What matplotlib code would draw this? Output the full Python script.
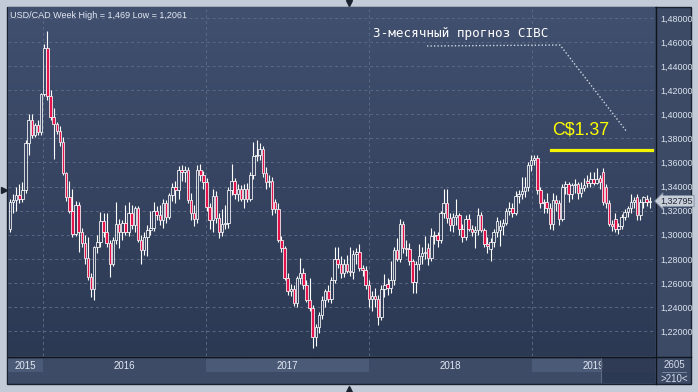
import numpy as np
import pandas as pd
import matplotlib
matplotlib.use('Agg')
import matplotlib.pyplot as plt
import matplotlib.transforms as mtransforms
from matplotlib.patches import Rectangle
from matplotlib.lines import Line2D
from matplotlib.colors import LinearSegmentedColormap

plt.rcParams['font.family'] = ['Liberation Sans', 'DejaVu Sans']

######### Data (weekly USD/CAD candles) #########
start_week = '2015-10-19'

opens = [1.305, 1.327, 1.329, 1.333, 1.330, 1.337, 1.376, 1.395, 1.383, 1.391,
         1.385, 1.417, 1.455, 1.415, 1.398, 1.392, 1.386, 1.377, 1.351, 1.331,
         1.320, 1.301, 1.325, 1.302, 1.293, 1.281, 1.265, 1.255, 1.290, 1.294,
         1.311, 1.302, 1.293, 1.276, 1.296, 1.309, 1.302, 1.310, 1.302, 1.318,
         1.308, 1.322, 1.296, 1.287, 1.298, 1.304, 1.306, 1.320, 1.316, 1.312,
         1.326, 1.315, 1.333,
         1.340, 1.337, 1.354, 1.352, 1.354, 1.329, 1.318, 1.313, 1.354, 1.350,
         1.344, 1.323, 1.312, 1.332, 1.314, 1.302, 1.309, 1.310, 1.337, 1.345,
         1.334, 1.338, 1.330, 1.338, 1.330, 1.350, 1.365, 1.366, 1.371, 1.351,
         1.344, 1.345, 1.327, 1.321, 1.296, 1.289, 1.264, 1.253, 1.255, 1.243,
         1.264, 1.268, 1.258, 1.246, 1.239, 1.215, 1.223, 1.233, 1.246, 1.253,
         1.247,
         1.262, 1.280, 1.276, 1.268, 1.276, 1.270, 1.269, 1.284, 1.286, 1.272,
         1.271, 1.258, 1.247, 1.249, 1.247, 1.232, 1.255, 1.259, 1.256, 1.262,
         1.287, 1.280, 1.309, 1.289, 1.288, 1.278, 1.261, 1.276, 1.282, 1.285,
         1.289, 1.281, 1.299, 1.300, 1.296, 1.318, 1.326, 1.314, 1.308, 1.315,
         1.316, 1.305, 1.298, 1.313, 1.305, 1.302, 1.304, 1.316, 1.304, 1.292,
         1.288, 1.294, 1.302,
         1.304, 1.307, 1.310, 1.320, 1.322, 1.318, 1.332, 1.334, 1.336, 1.340,
         1.358, 1.362, 1.364, 1.337, 1.326, 1.327, 1.322, 1.309, 1.329, 1.326,
         1.313, 1.340, 1.342, 1.334, 1.341, 1.342, 1.335, 1.339, 1.345, 1.343,
         1.346, 1.343, 1.347, 1.352, 1.340, 1.326, 1.309, 1.313, 1.305, 1.307,
         1.315, 1.319, 1.322, 1.327, 1.331, 1.316, 1.327, 1.330, 1.327]

highs = [1.330, 1.334, 1.340, 1.342, 1.344, 1.379, 1.400, 1.400, 1.393, 1.395,
         1.418, 1.458, 1.469, 1.420, 1.405, 1.394, 1.390, 1.381, 1.352, 1.345,
         1.338, 1.328, 1.327, 1.306, 1.300, 1.298, 1.268, 1.291, 1.300, 1.319,
         1.318, 1.318, 1.296, 1.298, 1.327, 1.313, 1.312, 1.325, 1.327, 1.325,
         1.324, 1.324, 1.300, 1.302, 1.308, 1.320, 1.327, 1.324, 1.325, 1.330,
         1.329, 1.335, 1.343,
         1.345, 1.357, 1.358, 1.357, 1.356, 1.335, 1.325, 1.358, 1.359, 1.353,
         1.347, 1.326, 1.338, 1.336, 1.318, 1.321, 1.325, 1.340, 1.359, 1.347,
         1.342, 1.341, 1.342, 1.343, 1.352, 1.377, 1.379, 1.376, 1.374, 1.356,
         1.350, 1.348, 1.330, 1.326, 1.299, 1.291, 1.268, 1.259, 1.258, 1.266,
         1.281, 1.272, 1.262, 1.264, 1.242, 1.226, 1.236, 1.249, 1.255, 1.258,
         1.265,
         1.290, 1.290, 1.282, 1.280, 1.283, 1.290, 1.287, 1.289, 1.292, 1.275,
         1.274, 1.262, 1.253, 1.256, 1.250, 1.258, 1.267, 1.264, 1.278, 1.290,
         1.297, 1.313, 1.311, 1.296, 1.293, 1.280, 1.278, 1.292, 1.290, 1.299,
         1.293, 1.306, 1.303, 1.302, 1.320, 1.338, 1.338, 1.318, 1.318, 1.330,
         1.318, 1.309, 1.316, 1.317, 1.308, 1.307, 1.322, 1.319, 1.306, 1.298,
         1.297, 1.305, 1.315,
         1.312, 1.313, 1.322, 1.327, 1.326, 1.336, 1.337, 1.348, 1.348, 1.360,
         1.366, 1.366, 1.366, 1.340, 1.330, 1.335, 1.326, 1.335, 1.333, 1.329,
         1.342, 1.345, 1.344, 1.343, 1.346, 1.344, 1.344, 1.347, 1.350, 1.352,
         1.352, 1.355, 1.350, 1.355, 1.342, 1.329, 1.312, 1.318, 1.310, 1.317,
         1.321, 1.324, 1.334, 1.331, 1.334, 1.330, 1.332, 1.333, 1.331]

lows = [1.302, 1.318, 1.320, 1.326, 1.327, 1.335, 1.366, 1.380, 1.381, 1.383,
        1.383, 1.415, 1.412, 1.395, 1.363, 1.384, 1.374, 1.350, 1.328, 1.318,
        1.298, 1.299, 1.286, 1.290, 1.276, 1.262, 1.248, 1.246, 1.285, 1.290,
        1.298, 1.290, 1.265, 1.274, 1.292, 1.289, 1.296, 1.300, 1.299, 1.305,
        1.302, 1.294, 1.276, 1.283, 1.282, 1.300, 1.303, 1.312, 1.308, 1.306,
        1.310, 1.313, 1.328,
        1.326, 1.330, 1.345, 1.344, 1.326, 1.312, 1.307, 1.310, 1.345, 1.338,
        1.320, 1.305, 1.302, 1.310, 1.297, 1.299, 1.305, 1.306, 1.333, 1.330,
        1.328, 1.328, 1.322, 1.327, 1.328, 1.346, 1.361, 1.362, 1.348, 1.338,
        1.340, 1.316, 1.318, 1.294, 1.286, 1.262, 1.250, 1.249, 1.241, 1.240,
        1.259, 1.255, 1.244, 1.237, 1.206, 1.208, 1.218, 1.230, 1.240, 1.244,
        1.243,
        1.260, 1.272, 1.264, 1.265, 1.268, 1.266, 1.263, 1.276, 1.270, 1.266,
        1.255, 1.240, 1.237, 1.240, 1.225, 1.229, 1.248, 1.250, 1.252, 1.258,
        1.278, 1.277, 1.285, 1.282, 1.275, 1.252, 1.252, 1.271, 1.276, 1.280,
        1.275, 1.278, 1.292, 1.290, 1.293, 1.314, 1.310, 1.303, 1.302, 1.308,
        1.300, 1.294, 1.296, 1.303, 1.299, 1.289, 1.300, 1.302, 1.290, 1.285,
        1.278, 1.290, 1.298,
        1.291, 1.300, 1.308, 1.316, 1.315, 1.316, 1.326, 1.330, 1.331, 1.336,
        1.353, 1.358, 1.334, 1.322, 1.318, 1.318, 1.305, 1.304, 1.320, 1.308,
        1.311, 1.334, 1.327, 1.330, 1.335, 1.330, 1.331, 1.336, 1.340, 1.340,
        1.341, 1.342, 1.338, 1.325, 1.322, 1.307, 1.303, 1.302, 1.301, 1.305,
        1.312, 1.315, 1.318, 1.322, 1.312, 1.312, 1.322, 1.324, 1.322]

closes = [1.327, 1.329, 1.333, 1.330, 1.337, 1.376, 1.395, 1.383, 1.391, 1.385,
          1.417, 1.455, 1.415, 1.398, 1.392, 1.386, 1.377, 1.351, 1.331, 1.320,
          1.301, 1.325, 1.302, 1.293, 1.281, 1.265, 1.255, 1.290, 1.294, 1.311,
          1.302, 1.293, 1.276, 1.296, 1.309, 1.302, 1.310, 1.302, 1.318, 1.308,
          1.322, 1.296, 1.287, 1.298, 1.304, 1.306, 1.320, 1.316, 1.312, 1.326,
          1.315, 1.333, 1.340,
          1.337, 1.354, 1.352, 1.354, 1.329, 1.318, 1.313, 1.354, 1.350, 1.344,
          1.323, 1.312, 1.332, 1.314, 1.302, 1.309, 1.310, 1.337, 1.345, 1.334,
          1.338, 1.330, 1.338, 1.330, 1.350, 1.365, 1.366, 1.371, 1.351, 1.344,
          1.345, 1.321, 1.321, 1.296, 1.289, 1.264, 1.253, 1.255, 1.243, 1.264,
          1.268, 1.258, 1.246, 1.239, 1.215, 1.223, 1.233, 1.246, 1.253, 1.247,
          1.262,
          1.280, 1.276, 1.268, 1.276, 1.270, 1.269, 1.284, 1.286, 1.272, 1.271,
          1.258, 1.247, 1.249, 1.247, 1.232, 1.255, 1.258, 1.256, 1.262, 1.287,
          1.280, 1.309, 1.289, 1.288, 1.278, 1.261, 1.276, 1.282, 1.285, 1.286,
          1.281, 1.299, 1.300, 1.296, 1.318, 1.326, 1.314, 1.308, 1.315, 1.316,
          1.305, 1.298, 1.313, 1.305, 1.302, 1.304, 1.316, 1.304, 1.292, 1.291,
          1.294, 1.302, 1.311,
          1.307, 1.310, 1.320, 1.322, 1.318, 1.332, 1.334, 1.336, 1.340, 1.358,
          1.362, 1.364, 1.337, 1.326, 1.327, 1.322, 1.309, 1.329, 1.326, 1.313,
          1.340, 1.342, 1.334, 1.341, 1.342, 1.335, 1.339, 1.341, 1.343, 1.346,
          1.343, 1.346, 1.344, 1.327, 1.326, 1.309, 1.307, 1.305, 1.307, 1.315,
          1.319, 1.322, 1.327, 1.329, 1.316, 1.327, 1.331, 1.327, 1.32795]

years = ['2015', '2016', '2017', '2018', '2019']
price_ticks = [1.22, 1.24, 1.26, 1.28, 1.30, 1.32, 1.34, 1.36, 1.38, 1.40,
               1.42, 1.44, 1.46, 1.48]
forecast = 1.37
title = 'USD/CAD Week High = 1,469 Low = 1,2061'
note = '3-месячный прогноз CIBC'
corner_texts = ['2605', '>210<']

######### Layout helpers (pixels of a 698x392 picture) #########
W, H = 698, 392
def fx(px):
    return px / W
def fy(py):
    return 1 - py / H

fig = plt.figure(figsize=(W / 100, H / 100), dpi=100)
fig.patch.set_facecolor('#c3cbd8')

# dark chart frame
fig.add_artist(Rectangle((fx(7), fy(384)), (691 - 7) / W, (384 - 7) / H,
                         transform=fig.transFigure, facecolor='#3c4a65',
                         edgecolor='#1a212e', lw=1, zorder=0))

ax = fig.add_axes([fx(8), fy(356), 647 / W, 349 / H])
ax.set_zorder(2)

# vertical background gradient
cmap = LinearSegmentedColormap.from_list('bg', ['#425070', '#2b3953'])
ax.imshow(np.linspace(0, 1, 256).reshape(-1, 1), cmap=cmap, aspect='auto',
          extent=[0, 1, 0, 1], transform=ax.transAxes, zorder=0)

o = np.array(opens)
h = np.array(highs)
l = np.array(lows)
c = np.array(closes)
x = np.arange(len(c))
up = c >= o
lo = np.minimum(o, c)
hi = np.maximum(o, c)

x0 = pd.Timestamp(start_week)
bounds = [-0.64] + [(pd.Timestamp(f'{y}-01-01') - x0).days / 7 for y in years[1:]] + [206.7]

ax.set_xlim(bounds[0], bounds[-1])
ax.set_ylim(1.1993, 1.4891)

# grid
for b in bounds[1:-1]:
    ax.axvline(b, color='#5a6884', lw=0.7, ls=(0, (3, 3)), zorder=1)
for t in price_ticks:
    ax.axhline(t, color='#5a6884', lw=0.7, ls=(0, (3, 3)), zorder=1)

# candles
ax.vlines(x, l, lo, color='white', lw=0.8, zorder=3)
ax.vlines(x, hi, h, color='white', lw=0.8, zorder=3)
ax.bar(x[up], (hi - lo)[up], bottom=lo[up], width=0.8, facecolor='none',
       edgecolor='white', lw=0.55, zorder=4)
ax.bar(x[~up], (hi - lo)[~up], bottom=lo[~up], width=0.8, facecolor='#e5134b',
       edgecolor='white', lw=0.55, zorder=4)

ax.set_xticks([])
ax.yaxis.tick_right()
ax.set_yticks(price_ticks)
ax.set_yticklabels([f'{t:.5f}'.replace('.', ',') for t in price_ticks])
ax.tick_params(axis='y', length=0, pad=4, labelsize=6.5, labelcolor='#dbe3ef')
for s in ax.spines.values():
    s.set_visible(False)

# forecast annotation
ax.axhline(forecast, xmin=0.839, xmax=0.995, color='#f4f400', lw=2.3, zorder=5)
ax.text(0.8408, 0.6476, f'C${forecast:.2f}', transform=ax.transAxes,
        fontsize=12.8, color='#ffff00', ha='left', va='center', zorder=6)
ax.text(0.564, 0.9255, note, transform=ax.transAxes, family='DejaVu Sans Mono',
        fontsize=9.1, color='white', ha='left', va='center', zorder=6)
ax.plot([0.6476, 0.8532, 0.9567], [0.8883, 0.8911, 0.6418], transform=ax.transAxes,
        color='#d0d7e2', lw=1.0, ls=(0, (1, 1.5)), zorder=6)

# current price tag
trans = mtransforms.blended_transform_factory(ax.transAxes, ax.transData)
ax.text(1.0085, c[-1], f'{c[-1]:.5f}'.replace('.', ','), transform=trans,
        fontsize=6.5, color='#1c2636', ha='left', va='center', clip_on=False,
        zorder=8, bbox=dict(boxstyle='larrow,pad=0.12', fc='#c8ced8',
                            ec='#7d8aa0', lw=0.6))

# bottom time band
axb = fig.add_axes([fx(8), fy(383), 647 / W, 26 / H])
axb.set_facecolor('#3d4b66')
axb.set_xlim(bounds[0], bounds[-1])
axb.set_ylim(0, 1)
for i, yr in enumerate(years):
    if i % 2 == 0:
        axb.axvspan(bounds[i], bounds[i + 1], ymin=0.42, ymax=0.92,
                    color='#4b5a76', lw=0)
    axb.text((bounds[i] + bounds[i + 1]) / 2, 0.66, yr, fontsize=7,
             color='#e2e8f2', ha='center', va='center')
axb.add_patch(Rectangle(((601 - 8) / 647, 0), 1, 1, transform=axb.transAxes,
                        facecolor='#2a3650', alpha=0.85, lw=0, zorder=5))
axb.axvline(bounds[0] + (601 - 8) / 647 * (bounds[-1] - bounds[0]),
            color='#5f6b80', lw=0.8, zorder=6)
axb.set_xticks([])
axb.set_yticks([])
for s in axb.spines.values():
    s.set_visible(False)

# separators
fig.add_artist(Line2D([fx(656), fx(656)], [fy(7), fy(384)], color='#0f141d', lw=1,
                      transform=fig.transFigure))
fig.add_artist(Line2D([fx(8), fx(691)], [fy(357), fy(357)], color='#0f141d', lw=1,
                      transform=fig.transFigure))
fig.add_artist(Line2D([fx(662), fx(686)], [fy(372), fy(372)], color='#8090a8', lw=0.6,
                      transform=fig.transFigure))
fig.text(fx(674), fy(365), corner_texts[0], fontsize=7, color='#d4dcea',
         ha='center', va='center')
fig.text(fx(674), fy(379), corner_texts[1], fontsize=7, color='#d4dcea',
         ha='center', va='center')

# title
fig.text(fx(10), fy(15), title, fontsize=6.5, color='#e4e9f2', ha='left',
         va='center', zorder=10)

# scroll markers
for px, py, m in [(4, 190, '>'), (349, 3, 'v'), (349, 389, '^')]:
    fig.add_artist(Line2D([fx(px)], [fy(py)], marker=m, ms=4, color='#1a2230',
                          lw=0, transform=fig.transFigure))

fig.savefig('out.png', dpi=100, facecolor=fig.get_facecolor())
